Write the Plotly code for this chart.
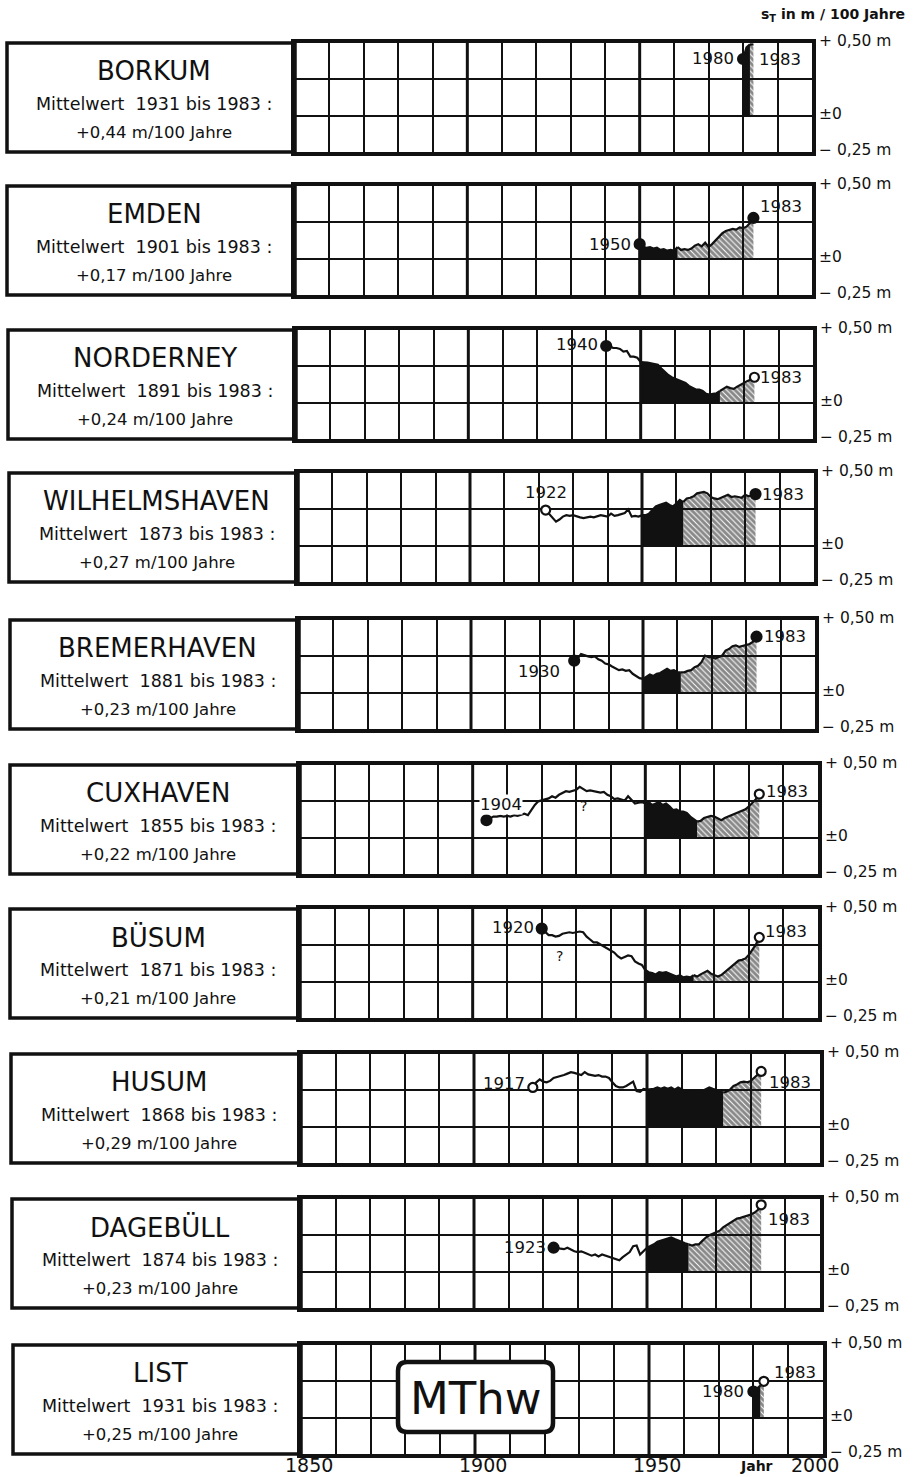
import plotly.graph_objects as go

# ---------------- data ----------------
stations = ["BORKUM", "EMDEN", "NORDERNEY", "WILHELMSHAVEN", "BREMERHAVEN",
            "CUXHAVEN", "BÜSUM", "HUSUM", "DAGEBÜLL", "LIST"]
period_start = [1931, 1901, 1891, 1873, 1881, 1855, 1871, 1868, 1874, 1931]
period_end = [1983, 1983, 1983, 1983, 1983, 1983, 1983, 1983, 1983, 1983]
mean_rate = ["+0,44", "+0,17", "+0,24", "+0,27", "+0,23",
             "+0,22", "+0,21", "+0,29", "+0,23", "+0,25"]
series_start = [1980, 1950, 1940, 1922, 1930, 1904, 1920, 1917, 1923, 1980]
series_end = 1983
# first year of the hatched part of the shaded area
hatch_from = [1982, 1961, 1973, 1962, 1961, 1965, 1964, 1972, 1962, 1982]

# s_T in m / 100 Jahre, one value per year from series_start to 1983
borkum_st = [0.39, 0.47, 0.49, 0.49]
emden_st = [0.10, 0.08, 0.075, 0.08, 0.07, 0.075, 0.06, 0.065, 0.055, 0.06,
            0.055, 0.08, 0.06, 0.065, 0.06, 0.07, 0.09, 0.10, 0.085, 0.11,
            0.08, 0.10, 0.125, 0.15, 0.175, 0.19, 0.20, 0.205, 0.20, 0.215,
            0.21, 0.22, 0.245, 0.28]
norderney_st = [0.39, 0.39, 0.376, 0.376, 0.37, 0.352, 0.356, 0.317, 0.317, 0.31,
                0.28, 0.28, 0.275, 0.27, 0.265, 0.26, 0.235, 0.21, 0.19, 0.175,
                0.165, 0.15, 0.14, 0.135, 0.115, 0.10, 0.09, 0.09, 0.08, 0.06,
                0.055, 0.06, 0.065, 0.08, 0.095, 0.11, 0.10, 0.095, 0.11, 0.125,
                0.135, 0.15, 0.16, 0.175]
wilhelmshaven_st = [0.245, 0.22, 0.19, 0.165, 0.18, 0.20, 0.21, 0.205, 0.21, 0.20,
                    0.195, 0.19, 0.195, 0.20, 0.195, 0.205, 0.21, 0.205, 0.20, 0.22,
                    0.205, 0.21, 0.22, 0.225, 0.25, 0.20, 0.205, 0.20, 0.21, 0.21,
                    0.22, 0.245, 0.27, 0.28, 0.29, 0.295, 0.28, 0.27, 0.29, 0.315,
                    0.30, 0.325, 0.33, 0.34, 0.36, 0.365, 0.37, 0.36, 0.335, 0.325,
                    0.32, 0.33, 0.34, 0.35, 0.335, 0.34, 0.335, 0.33, 0.35, 0.34,
                    0.345, 0.355]
bremerhaven_st = [0.22, 0.235, 0.265, 0.255, 0.25, 0.245, 0.25, 0.23, 0.22, 0.20,
                  0.195, 0.18, 0.165, 0.155, 0.16, 0.15, 0.155, 0.13, 0.115, 0.10,
                  0.095, 0.11, 0.125, 0.115, 0.13, 0.135, 0.15, 0.165, 0.15, 0.155,
                  0.14, 0.14, 0.14, 0.15, 0.155, 0.175, 0.185, 0.21, 0.255, 0.245,
                  0.245, 0.235, 0.245, 0.255, 0.29, 0.30, 0.32, 0.325, 0.315, 0.32,
                  0.325, 0.335, 0.35, 0.385]
cuxhaven_st = [0.12, 0.133, 0.145, 0.145, 0.15, 0.145, 0.15, 0.145, 0.155, 0.15,
               0.16, 0.165, 0.155, 0.19, 0.225, 0.25, 0.255, 0.26, 0.27, 0.285,
               0.275, 0.295, 0.31, 0.32, 0.315, 0.32, 0.33, 0.35, 0.335, 0.32,
               0.325, 0.32, 0.315, 0.31, 0.315, 0.295, 0.285, 0.265, 0.27, 0.26,
               0.255, 0.285, 0.26, 0.235, 0.24, 0.245, 0.235, 0.245, 0.225, 0.235,
               0.245, 0.225, 0.235, 0.215, 0.19, 0.195, 0.18, 0.18, 0.17, 0.145,
               0.125, 0.11, 0.115, 0.135, 0.145, 0.15, 0.145, 0.135, 0.12, 0.135,
               0.145, 0.155, 0.17, 0.18, 0.185, 0.195, 0.215, 0.24, 0.265, 0.30]
buesum_st = [0.365, 0.34, 0.32, 0.32, 0.31, 0.315, 0.33, 0.335, 0.34, 0.335,
             0.34, 0.345, 0.34, 0.31, 0.29, 0.27, 0.27, 0.255, 0.245, 0.225,
             0.21, 0.20, 0.175, 0.16, 0.17, 0.18, 0.175, 0.14, 0.125, 0.115,
             0.08, 0.065, 0.06, 0.05, 0.065, 0.06, 0.065, 0.055, 0.05, 0.035,
             0.045, 0.03, 0.035, 0.03, 0.045, 0.035, 0.05, 0.06, 0.075, 0.055,
             0.045, 0.035, 0.045, 0.065, 0.09, 0.105, 0.13, 0.145, 0.15, 0.16,
             0.185, 0.22, 0.255, 0.305]
husum_st = [0.27, 0.305, 0.325, 0.31, 0.305, 0.315, 0.335, 0.34, 0.345, 0.355,
            0.365, 0.375, 0.37, 0.365, 0.355, 0.375, 0.36, 0.355, 0.35, 0.355,
            0.345, 0.345, 0.335, 0.305, 0.28, 0.27, 0.27, 0.28, 0.295, 0.31,
            0.245, 0.24, 0.26, 0.255, 0.255, 0.26, 0.27, 0.26, 0.27, 0.26,
            0.27, 0.255, 0.27, 0.255, 0.245, 0.24, 0.24, 0.235, 0.24, 0.245,
            0.255, 0.27, 0.26, 0.255, 0.245, 0.235, 0.24, 0.255, 0.28, 0.29,
            0.305, 0.31, 0.305, 0.315, 0.335, 0.355, 0.38]
dagebuell_st = [0.165, 0.165, 0.158, 0.155, 0.165, 0.15, 0.14, 0.135, 0.14, 0.13,
                0.12, 0.11, 0.118, 0.105, 0.118, 0.11, 0.10, 0.095, 0.088, 0.078,
                0.10, 0.118, 0.135, 0.175, 0.18, 0.118, 0.14, 0.165, 0.176, 0.188,
                0.205, 0.212, 0.22, 0.228, 0.235, 0.224, 0.212, 0.205, 0.195, 0.188,
                0.18, 0.188, 0.188, 0.212, 0.235, 0.25, 0.26, 0.275, 0.282, 0.305,
                0.32, 0.335, 0.353, 0.365, 0.37, 0.376, 0.383, 0.393, 0.405, 0.424,
                0.46]
list_st = [0.18, 0.20, 0.22, 0.25]

series_values = [borkum_st, emden_st, norderney_st, wilhelmshaven_st, bremerhaven_st,
                 cuxhaven_st, buesum_st, husum_st, dagebuell_st, list_st]

# marker style of the first / last point: "filled", "open" or "none"
start_marker = ["filled", "filled", "filled", "open", "filled",
                "filled", "filled", "open", "filled", "filled"]
end_marker = ["none", "filled", "open", "filled", "filled",
              "open", "open", "open", "open", "open"]

# uncertain stretches marked with "?"
question_marks = {"CUXHAVEN": (1932, 0.215), "BÜSUM": (1925, 0.18)}

axis_years = [1850, 1900, 1950, 2000]
right_labels = [(0.5, "+ 0,50 m"), (0.0, "±0"), (-0.25, "− 0,25 m")]

# ---------------- layout geometry (pixels) ----------------
W, H = 914, 1477
INK = "#111111"
FONT = "DejaVu Sans"
panel_tops = [43, 186, 330, 473, 620, 765, 909, 1054, 1199, 1345]
panel_h = 109
grid_left = [295, 295, 296, 298, 299, 300, 300, 301, 301, 301]
grid_right = [812, 812, 813, 814, 815, 818, 818, 820, 820, 823]
box_left = [7, 7, 8, 9, 10, 10, 10, 11, 12, 13]

# year-label placement next to the end markers: (xanchor, yanchor, xshift, yshift)
start_label_pos = [("right", "middle", -7, 0), ("right", "middle", -7, 0),
                   ("right", "middle", -6, 1), ("center", "bottom", 0, 6),
                   ("right", "middle", -12, -11), ("center", "bottom", 15, 5),
                   ("right", "middle", -6, 1), ("right", "middle", -6, 4),
                   ("right", "middle", -6, 0), ("right", "middle", -7, 0)]
end_label_pos = [("left", "middle", 4, -15), ("left", "middle", 5, 11),
                 ("left", "middle", 4, 0), ("left", "middle", 4, 0),
                 ("left", "middle", 5, 0), ("left", "middle", 5, 3),
                 ("left", "middle", 4, 6), ("left", "middle", 6, -11),
                 ("left", "middle", 5, -15), ("left", "middle", 8, 9)]


def px(x):
    return x / W


def py(y):
    return 1 - y / H


def label(**kw):
    base = dict(showarrow=False, xanchor="center", yanchor="middle")
    base.update(kw)
    return base


fig = go.Figure()
shapes = []
annotations = []
axes = {}

for i, name in enumerate(stations):
    n = i + 1
    xa = "x" if n == 1 else f"x{n}"
    ya = "y" if n == 1 else f"y{n}"
    top, bot = panel_tops[i], panel_tops[i] + panel_h
    gl, gr = grid_left[i], grid_right[i]

    axes["xaxis" if n == 1 else f"xaxis{n}"] = dict(
        domain=[px(gl), px(gr)], range=[1850, 2000], anchor=ya,
        tick0=1850, dtick=10, showgrid=True, gridcolor=INK, gridwidth=1.6,
        showticklabels=False, ticks="", zeroline=False, showline=True,
        mirror=True, linecolor=INK, linewidth=3.5, fixedrange=True)
    axes["yaxis" if n == 1 else f"yaxis{n}"] = dict(
        domain=[py(bot), py(top)], range=[-0.25, 0.5], anchor=xa,
        tick0=-0.25, dtick=0.25, showgrid=True, gridcolor=INK, gridwidth=1.6,
        showticklabels=False, ticks="", zeroline=False, showline=True,
        mirror=True, linecolor=INK, linewidth=3.5, fixedrange=True)

    # heavier lines at 1900 and 1950
    for yr in (1900, 1950):
        shapes.append(dict(type="line", xref=xa, yref=f"{ya} domain",
                           x0=yr, x1=yr, y0=0, y1=1,
                           line=dict(color=INK, width=3)))

    # station text box
    shapes.append(dict(type="rect", xref="paper", yref="paper",
                       x0=px(box_left[i]), x1=px(gl), y0=py(bot), y1=py(top),
                       line=dict(color=INK, width=3.5)))
    cx = px((box_left[i] + gl) / 2 + 3)
    annotations.append(label(xref="paper", yref="paper", x=cx, y=py(top + 28),
                             text=name,
                             font=dict(family=FONT, size=26, color=INK)))
    annotations.append(label(xref="paper", yref="paper", x=cx, y=py(top + 61),
                             text=f"Mittelwert\u00a0\u00a0{period_start[i]} bis\u00a0{period_end[i]}\u00a0:",
                             font=dict(family=FONT, size=17.5, color=INK)))
    annotations.append(label(xref="paper", yref="paper", x=cx, y=py(top + 89),
                             text=f"{mean_rate[i]} m/100 Jahre",
                             font=dict(family=FONT, size=16.5, color=INK)))

    # scale labels on the right
    for val, txt in right_labels:
        annotations.append(label(xref="paper", yref=ya, x=px(gr + 5), y=val,
                                 xanchor="left", yshift=2, text=txt,
                                 font=dict(family=FONT, size=15.5, color=INK)))

    # ---- s_T curve ----
    vals = series_values[i]
    years = list(range(series_start[i], series_end + 1))
    pts = list(zip(years, vals))
    pre = [p for p in pts if p[0] <= 1950]
    if len(pre) > 1:
        fig.add_trace(go.Scatter(x=[p[0] for p in pre], y=[p[1] for p in pre],
                                 mode="lines", line=dict(color=INK, width=2.2),
                                 xaxis=xa, yaxis=ya, showlegend=False,
                                 hoverinfo="skip"))
    solid = [p for p in pts if p[0] >= 1950 and p[0] <= hatch_from[i]]
    hatched = [p for p in pts if p[0] >= hatch_from[i]]
    if len(solid) > 1:
        fig.add_trace(go.Scatter(x=[p[0] for p in solid], y=[p[1] for p in solid],
                                 mode="lines", line=dict(color=INK, width=2.2),
                                 fill="tozeroy", fillcolor=INK,
                                 xaxis=xa, yaxis=ya, showlegend=False,
                                 hoverinfo="skip"))
    if len(hatched) > 1:
        fig.add_trace(go.Scatter(x=[p[0] for p in hatched], y=[p[1] for p in hatched],
                                 mode="lines", line=dict(color=INK, width=2.2),
                                 fill="tozeroy", fillcolor="rgba(0,0,0,0)",
                                 fillpattern=dict(shape="\\", fgcolor=INK,
                                                  bgcolor="rgba(0,0,0,0)",
                                                  size=4, solidity=0.75),
                                 xaxis=xa, yaxis=ya, showlegend=False,
                                 hoverinfo="skip"))

    # end markers
    for yr, v, style in ((years[0], vals[0], start_marker[i]),
                         (years[-1], vals[-1], end_marker[i])):
        if style == "none":
            continue
        fig.add_trace(go.Scatter(
            x=[yr], y=[v], mode="markers", xaxis=xa, yaxis=ya,
            showlegend=False, hoverinfo="skip",
            marker=dict(size=10 if style == "filled" else 9,
                        color=INK if style == "filled" else "white",
                        line=dict(color=INK, width=2.2))))

    # year labels at both ends
    for (yr, v), (xanc, yanc, dx, dy) in (((years[0], vals[0]), start_label_pos[i]),
                                          ((years[-1], vals[-1]), end_label_pos[i])):
        ann = label(xref=xa, yref=ya, x=yr, y=v, text=str(yr),
                    xanchor=xanc, yanchor=yanc, xshift=dx, yshift=dy,
                    font=dict(family=FONT, size=16.5, color=INK))
        if name == "CUXHAVEN" and yr == years[0]:
            ann["bgcolor"] = "white"
            ann["borderpad"] = 0
        annotations.append(ann)

    if name in question_marks:
        qx, qy = question_marks[name]
        annotations.append(label(xref=xa, yref=ya, x=qx, y=qy, text="?",
                                 font=dict(family=FONT, size=14, color=INK)))

# ---- header ----
annotations.append(label(xref="paper", yref="paper", x=px(907), y=py(15),
                         xanchor="right",
                         text="<b>s<sub>T</sub> in m / 100 Jahre</b>",
                         font=dict(family=FONT, size=14, color=INK)))

# ---- time axis under the last panel ----
last = len(stations)
for yr in axis_years:
    annotations.append(label(xref=f"x{last}", yref="paper", x=yr, y=py(1465),
                             xshift=8 if yr < 2000 else -8, text=str(yr),
                             font=dict(family=FONT, size=19, color=INK)))
annotations.append(label(xref="paper", yref="paper", x=px(756), y=py(1466),
                         text="<b>Jahr</b>",
                         font=dict(family=FONT, size=14, color=INK)))

# ---- MThw label box in the last panel ----
bx0, bx1, by0, by1, r = 398, 553, 1362, 1432, 9
path = (f"M {px(bx0 + r)} {py(by0)} L {px(bx1 - r)} {py(by0)} "
        f"Q {px(bx1)} {py(by0)} {px(bx1)} {py(by0 + r)} "
        f"L {px(bx1)} {py(by1 - r)} Q {px(bx1)} {py(by1)} {px(bx1 - r)} {py(by1)} "
        f"L {px(bx0 + r)} {py(by1)} Q {px(bx0)} {py(by1)} {px(bx0)} {py(by1 - r)} "
        f"L {px(bx0)} {py(by0 + r)} Q {px(bx0)} {py(by0)} {px(bx0 + r)} {py(by0)} Z")
shapes.append(dict(type="path", xref="paper", yref="paper", path=path,
                   fillcolor="white", line=dict(color=INK, width=4.5),
                   layer="above"))
annotations.append(label(xref="paper", yref="paper", x=px((bx0 + bx1) / 2),
                         y=py((by0 + by1) / 2 + 1), text="MThw",
                         font=dict(family=FONT, size=45, color=INK)))

fig.update_layout(width=W, height=H, margin=dict(l=0, r=0, t=0, b=0),
                  paper_bgcolor="white", plot_bgcolor="white",
                  showlegend=False, shapes=shapes, annotations=annotations,
                  **axes)

fig.write_html("out.html")
